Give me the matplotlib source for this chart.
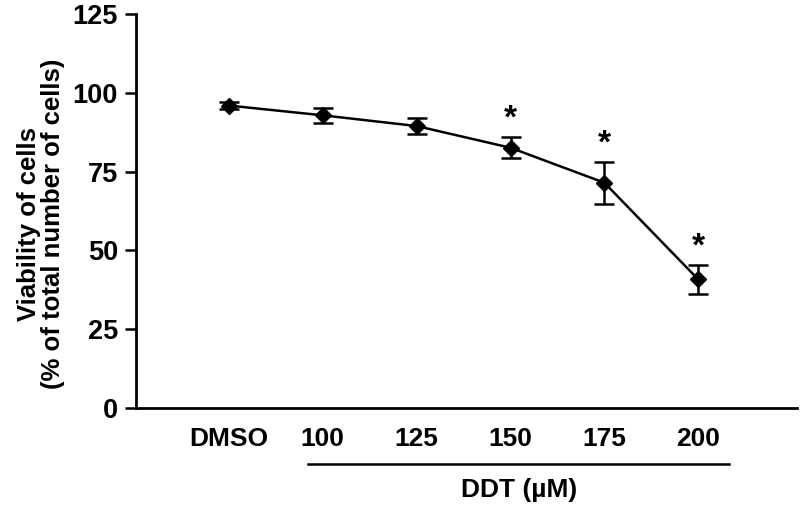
import matplotlib
matplotlib.use("Agg")
import matplotlib.pyplot as plt
import matplotlib.transforms as mtransforms
import numpy as np

plt.rcParams['font.family'] = ['Liberation Sans', 'DejaVu Sans']
plt.rcParams['font.weight'] = 'bold'

# data
groups = ['DMSO', '100', '125', '150', '175', '200']
viability = [96.0, 92.9, 89.5, 82.6, 71.5, 40.8]
sem = [1.0, 2.3, 2.4, 3.4, 6.7, 4.5]
significant = [False, False, False, True, True, True]
yticks = [0, 25, 50, 75, 100, 125]

x = np.arange(len(groups))

fig = plt.figure(figsize=(8, 5.08), dpi=100)
ax = fig.add_axes([0.17, 0.197, 0.826, 0.775])

ax.errorbar(x, viability, yerr=sem, fmt='-D', color='black', lw=1.8,
            ms=8, elinewidth=1.8, capsize=7, capthick=1.8)

# significance stars
for xi, v, e, s in zip(x, viability, sem, significant):
    if s:
        ax.text(xi, v + e + 0.8, '*', ha='center', va='bottom',
                fontsize=24, fontweight='bold')

ax.set_xlim(-0.99, 6.05)
ax.set_ylim(0, 125)
ax.set_yticks(yticks)
ax.set_xticks(x)
ax.set_xticklabels(groups)
ax.tick_params(axis='y', direction='out', length=8, width=1.8, labelsize=19.5, pad=5)
ax.tick_params(axis='x', length=0, labelsize=19, pad=14)
for t in ax.get_xticklabels() + ax.get_yticklabels():
    t.set_fontweight('bold')

for side in ['top', 'right']:
    ax.spines[side].set_visible(False)
for side in ['left', 'bottom']:
    ax.spines[side].set_linewidth(2)

ax.set_ylabel('Viability of cells\n(% of total number of cells)',
              fontsize=18.5, fontweight='bold', linespacing=1.0)
ax.yaxis.set_label_coords(-0.108, 0.467)

# DDT bracket below the concentration labels
trans = mtransforms.blended_transform_factory(ax.transData, ax.transAxes)
ax.plot([0.84, 5.33], [-0.142, -0.142], color='black', lw=1.8,
        transform=trans, clip_on=False)
ax.text(3.09, -0.208, 'DDT (µM)', ha='center', va='center', fontsize=19,
        fontweight='bold', transform=trans)

fig.savefig('out.png', dpi=100)
